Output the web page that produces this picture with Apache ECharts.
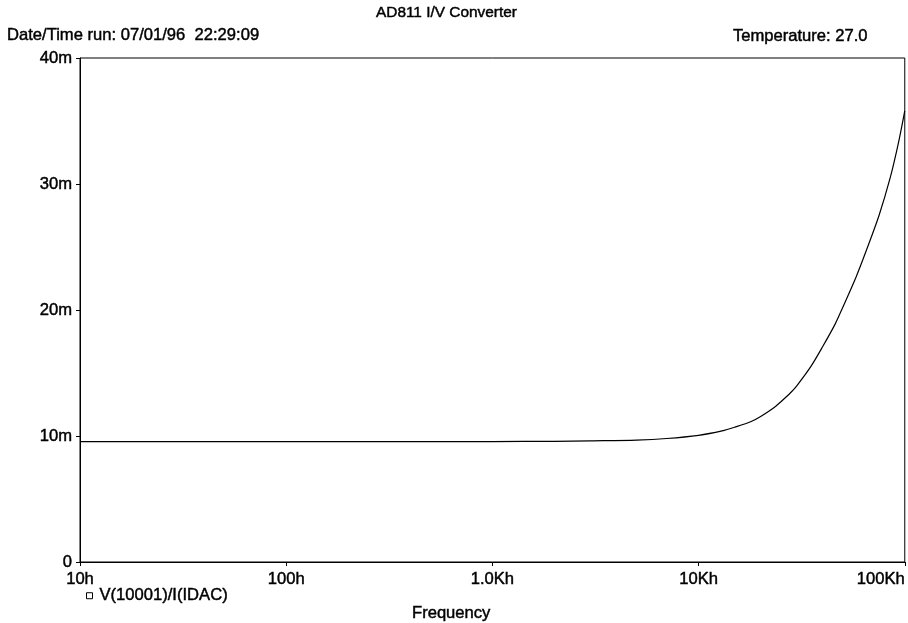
<!DOCTYPE html>
<html>
<head>
<meta charset="utf-8">
<script src="https://cdn.jsdelivr.net/npm/echarts@6/dist/echarts.min.js"></script>
<style>html,body{margin:0;padding:0;background:#fff}#c{width:908px;height:623px}</style>
</head>
<body>
<div id="c"></div>
<script>
// Frequency (h) and V(10001)/I(IDAC) in milli-units
const frequencies = [10, 20, 50, 100, 200, 500, 1000, 2000, 3000, 5000, 7000, 10000, 13000, 15000, 18000, 20000, 23000, 25000, 28000, 30000, 35000, 40000, 46000, 50000, 58000, 65000, 75000, 85000, 93000, 100000];
const values =      [9.55, 9.55, 9.55, 9.55, 9.55, 9.55, 9.56, 9.58, 9.62, 9.68, 9.8, 10.05, 10.4, 10.7, 11.15, 11.55, 12.2, 12.7, 13.45, 14.0, 15.5, 17.1, 18.9, 20.2, 22.6, 24.7, 27.5, 30.5, 33.2, 35.8];
const xTickLabels = {10: '10h', 100: '100h', 1000: '1.0Kh', 10000: '10Kh', 100000: '100Kh'};
const yTickLabels = {0: '0', 10: '10m', 20: '20m', 30: '30m', 40: '40m'};
const titleText = 'AD811 I/V Converter';
const dateText = 'Date/Time run: 07/01/96  22:29:09';
const tempText = 'Temperature: 27.0';
const seriesName = 'V(10001)/I(IDAC)';
const xName = 'Frequency';

const font = 'Liberation Sans, Arial, sans-serif';
const ts = (size) => ({fontFamily: font, fontSize: size, fontWeight: 'normal', color: '#000',
  textBorderColor: '#000', textBorderWidth: 0.45});
const chart = echarts.init(document.getElementById('c'));
chart.setOption({
  animation: false,
  backgroundColor: '#fff',
  title: [
    {text: titleText, left: 376, top: 5, padding: 0, textStyle: ts(15.4)},
    {text: dateText, left: 7, top: 27, padding: 0, textStyle: ts(16.6)},
    {text: tempText, right: 40, top: 28, padding: 0, textStyle: ts(16.6)},
    {text: xName, left: 412, top: 605, padding: 0, textStyle: ts(16.6)}
  ],
  legend: {
    left: 86, top: 587, itemWidth: 6, itemHeight: 6, itemGap: 5, padding: 0,
    icon: 'rect',
    textStyle: Object.assign(ts(16.6), {padding: [0,0,0,2]}),
    data: [{name: seriesName, itemStyle: {color: '#fff', borderColor: '#000', borderWidth: 1}}]
  },
  grid: {left: 80, right: 2, top: 58, bottom: 61, show: true, borderColor: '#000', borderWidth: 1, backgroundColor: 'transparent'},
  xAxis: {
    type: 'log', logBase: 10, min: 10, max: 100000,
    axisLine: {lineStyle: {color: '#000', width: 1}},
    axisTick: {show: true, length: 4, lineStyle: {color: '#000'}},
    minorTick: {show: false},
    splitLine: {show: false},
    axisLabel: Object.assign(ts(16.6), {margin: 9, alignMaxLabel: 'right',
      formatter: v => xTickLabels[Math.round(v)] || ''})
  },
  yAxis: {
    type: 'value', min: 0, max: 40, interval: 10,
    axisLine: {show: true, lineStyle: {color: '#000', width: 1}},
    axisTick: {show: true, length: 4, lineStyle: {color: '#000'}},
    splitLine: {show: false},
    axisLabel: Object.assign(ts(16.6), {margin: 8, formatter: v => yTickLabels[v]})
  },
  series: [{
    name: seriesName, type: 'line', showSymbol: false, smooth: 0.3,
    lineStyle: {color: '#000', width: 1.2},
    itemStyle: {color: '#000'},
    data: frequencies.map((f, i) => [f, values[i]])
  }]
});
</script>
</body>
</html>
